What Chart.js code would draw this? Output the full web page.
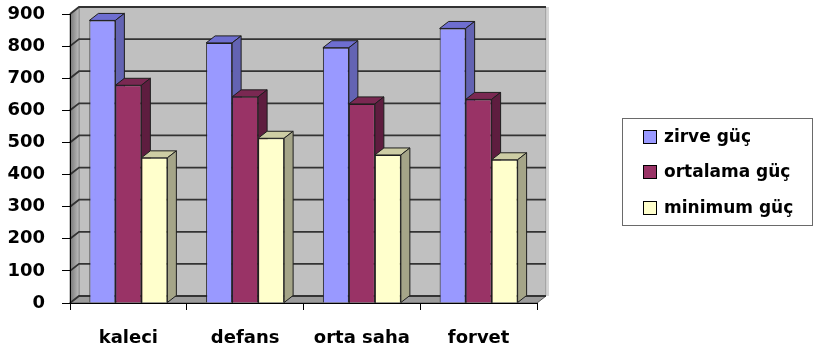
<!DOCTYPE html>
<html>
<head>
<meta charset="utf-8">
<script src="https://cdn.jsdelivr.net/npm/chart.js@4.4.1/dist/chart.umd.min.js"></script>
<style>
  html, body { margin: 0; padding: 0; background: #ffffff; }
  canvas { display: block; }
</style>
</head>
<body>
<canvas id="c" width="814" height="355"></canvas>
<script>
// Power values per playing position
const categories = ['kaleci', 'defans', 'orta saha', 'forvet'];
const seriesNames = ['zirve güç', 'ortalama güç', 'minimum güç'];
const zirveGuc = [880, 810, 795, 855];
const ortalamaGuc = [678, 642, 620, 634];
const minimumGuc = [452, 513, 461, 446];
const yMin = 0;
const yMax = 900;
const yStep = 100;

// Face colours for the 3D columns: front, top, side
const frontColors = ['#9999FF', '#993366', '#FFFFCC'];
const topColors = ['#6E6ED0', '#7A2852', '#CDCDA4'];
const sideColors = ['#6363B3', '#5E1D3F', '#A5A588'];

// Oblique depth of the walls and columns
const DX = 9;
const DY = 7;
const FONT = '"DejaVu Sans", Verdana, sans-serif';

function poly(ctx, pts, fill, stroke) {
  ctx.beginPath();
  ctx.moveTo(pts[0][0], pts[0][1]);
  for (let i = 1; i < pts.length; i++) ctx.lineTo(pts[i][0], pts[i][1]);
  ctx.closePath();
  if (fill) { ctx.fillStyle = fill; ctx.fill(); }
  if (stroke) { ctx.strokeStyle = stroke; ctx.lineWidth = 1; ctx.stroke(); }
}

// Back wall, left wall, floor and the gridlines drawn on them
const wallsPlugin = {
  id: 'walls',
  beforeDraw(chart) {
    const { ctx, chartArea: a, scales } = chart;
    const ys = scales.y;
    ctx.save();
    // back wall
    poly(ctx, [[a.left + DX, a.top - DY], [a.right + DX, a.top - DY],
               [a.right + DX, a.bottom - DY], [a.left + DX, a.bottom - DY]], '#C0C0C0', '#8a8a8a');
    ctx.fillStyle = '#D6D6D6';
    ctx.fillRect(a.right + DX + 0.5, a.top - DY, 2.5, a.bottom - a.top);
    // left wall
    const g = ctx.createLinearGradient(a.left, 0, a.left + DX, 0);
    g.addColorStop(0, '#767676');
    g.addColorStop(1, '#BDBDBD');
    poly(ctx, [[a.left, a.top], [a.left + DX, a.top - DY],
               [a.left + DX, a.bottom - DY], [a.left, a.bottom]], g, '#8a8a8a');
    // floor
    poly(ctx, [[a.left, a.bottom], [a.right, a.bottom],
               [a.right + DX, a.bottom - DY], [a.left + DX, a.bottom - DY]], '#9C9C9C', '#5a5a5a');
    // gridlines across the left wall and the back wall
    ctx.strokeStyle = '#333333';
    ctx.lineWidth = 1.8;
    for (let v = yMin; v <= yMax; v += yStep) {
      const y = ys.getPixelForValue(v);
      ctx.beginPath();
      ctx.moveTo(a.left, y);
      ctx.lineTo(a.left + DX, y - DY);
      ctx.lineTo(a.right + DX, y - DY);
      ctx.stroke();
    }
    ctx.restore();
  }
};

// Top and side faces of every column, in left-to-right order
const columnsPlugin = {
  id: 'columns3d',
  beforeDatasetsDraw(chart) {
    const { ctx } = chart;
    ctx.save();
    ctx.lineJoin = 'round';
    const n = chart.data.labels.length;
    for (let i = 0; i < n; i++) {
      chart.data.datasets.forEach((ds, d) => {
        const bar = chart.getDatasetMeta(d).data[i];
        const { x, y, base, width } = bar.getProps(['x', 'y', 'base', 'width'], true);
        const l = x - width / 2, r = x + width / 2;
        poly(ctx, [[l, y], [l + DX, y - DY], [r + DX, y - DY], [r, y]], topColors[d], '#1e1e1e');
        poly(ctx, [[r, y], [r + DX, y - DY], [r + DX, base - DY], [r, base]], sideColors[d], '#1e1e1e');
      });
    }
    ctx.restore();
  }
};

// Boxed legend on the right
const legendPlugin = {
  id: 'boxLegend',
  afterDraw(chart) {
    const { ctx } = chart;
    const bx = 622, by = 118, bw = 190, bh = 107;
    const rows = [137, 172, 208];
    ctx.save();
    ctx.fillStyle = '#ffffff';
    ctx.fillRect(bx, by, bw, bh);
    ctx.strokeStyle = '#6a6a6a';
    ctx.lineWidth = 1;
    ctx.strokeRect(bx + 0.5, by + 0.5, bw, bh);
    ctx.font = 'bold 17px ' + FONT;
    ctx.textBaseline = 'middle';
    ctx.textAlign = 'left';
    chart.data.datasets.forEach((ds, d) => {
      const ry = rows[d];
      ctx.fillStyle = ds.backgroundColor;
      ctx.fillRect(643.5, ry - 6.5, 13, 13);
      ctx.strokeStyle = '#000000';
      ctx.strokeRect(643.5, ry - 6.5, 13, 13);
      ctx.fillStyle = '#000000';
      ctx.fillText(ds.label, 664, ry + 1);
    });
    ctx.restore();
  }
};

const values = [zirveGuc, ortalamaGuc, minimumGuc];

new Chart(document.getElementById('c'), {
  type: 'bar',
  data: {
    labels: categories,
    datasets: seriesNames.map((name, d) => ({
      label: name,
      data: values[d],
      backgroundColor: frontColors[d],
      borderColor: '#1e1e1e',
      borderWidth: 1,
      categoryPercentage: 0.668,
      barPercentage: 1.0
    }))
  },
  options: {
    responsive: false,
    animation: false,
    events: [],
    layout: { padding: { left: 0, top: 14, right: 277, bottom: 0 } },
    plugins: {
      legend: { display: false },
      tooltip: { enabled: false },
      title: { display: false }
    },
    scales: {
      x: {
        offset: true,
        grid: { display: true, offset: true, drawOnChartArea: false, drawTicks: true, tickLength: 7, color: '#000000', lineWidth: 1 },
        border: { display: true, color: '#000000', width: 1 },
        ticks: { color: '#000000', font: { family: FONT, size: 18, weight: 'bold' }, padding: 18, maxRotation: 0 },
        afterFit(scale) { scale.height = 52; scale.paddingLeft = 0; scale.paddingRight = 0; }
      },
      y: {
        min: yMin,
        max: yMax,
        grid: { display: true, drawOnChartArea: false, drawTicks: true, tickLength: 8, color: '#000000', lineWidth: 1 },
        border: { display: true, color: '#000000', width: 1 },
        ticks: { stepSize: yStep, color: '#000000', font: { family: FONT, size: 18, weight: 'bold' }, padding: 17 },
        afterFit(scale) { scale.width = 70; scale.paddingTop = 0; scale.paddingBottom = 0; }
      }
    }
  },
  plugins: [wallsPlugin, columnsPlugin, legendPlugin]
});
</script>
</body>
</html>
